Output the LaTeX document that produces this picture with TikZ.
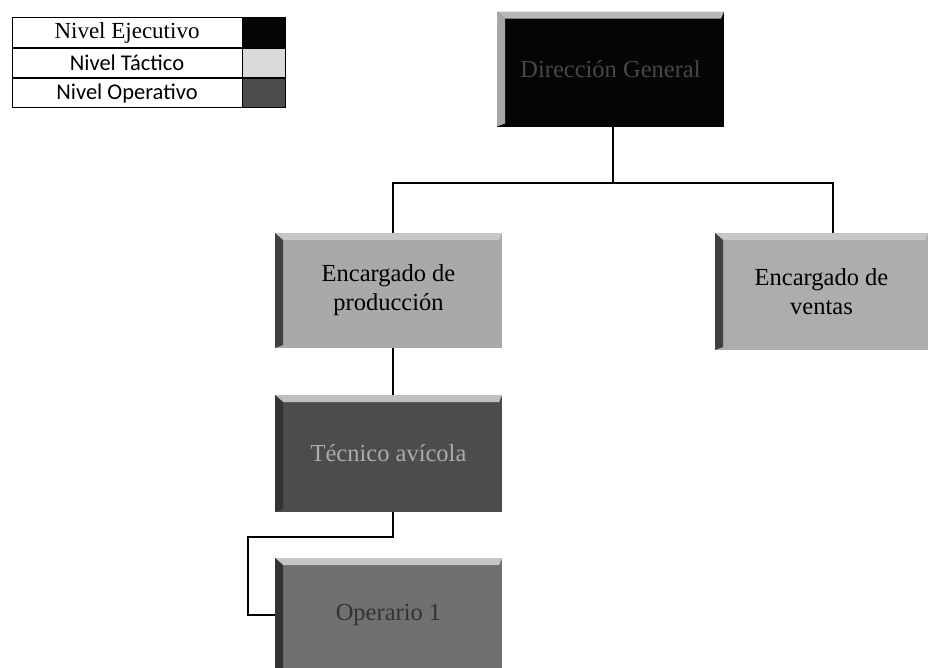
\documentclass[tikz,border=0pt]{standalone}
\usepackage{fontspec}
\setmainfont{Liberation Serif}
\newfontfamily\boxfont{Liberation Serif}
\newfontfamily\legsans{Carlito}
\usetikzlibrary{positioning}
\definecolor{ejecutivo}{HTML}{050505}
\definecolor{tactico}{HTML}{A9A9A9}
\definecolor{operativo}{HTML}{4C4C4C}
\definecolor{operario}{HTML}{707070}
\definecolor{swtactico}{HTML}{DADADA}
\tikzset{
  conn/.style = {line width=1.4pt},
  legcell/.style = {draw, line width=0.8pt, minimum width=230pt, minimum height=29.5pt, inner sep=0pt},
  swatch/.style = {draw, line width=0.8pt, minimum width=43pt, minimum height=29.5pt, inner sep=0pt},
  orgbox/.style n args = {3}{
    fill=#1, minimum width=227pt, minimum height=115pt, inner sep=0pt,
    align=center, font={\boxfont\fontsize{24.5}{29}\selectfont},
    path picture={
      % top face
      \fill[#2] (path picture bounding box.north west) -- (path picture bounding box.north east)
        -- ([xshift=-3pt,yshift=-7pt]path picture bounding box.north east)
        -- ([xshift=8pt,yshift=-7pt]path picture bounding box.north west) -- cycle;
      % left face
      \fill[#3] (path picture bounding box.north west)
        -- ([xshift=8pt,yshift=-7pt]path picture bounding box.north west)
        -- ([xshift=8pt,yshift=3pt]path picture bounding box.south west)
        -- (path picture bounding box.south west) -- cycle;
    }
  }
}

\begin{document}
\begin{tikzpicture}[x=1pt,y=-1pt]
  \path[use as bounding box, fill=white] (0,0) rectangle (931,667);
  % legend
  \node[legcell, font={\fontsize{23}{26}\selectfont}] (legE) at (127,32.5) {Nivel Ejecutivo};
  \node[swatch, fill=ejecutivo, anchor=west] (swE) at (legE.east) {};
  \node[legcell, anchor=north, font={\legsans\fontsize{22.5}{25}\selectfont}] (legT) at (legE.south) {Nivel Táctico};
  \node[swatch, fill=swtactico, anchor=west] (swT) at (legT.east) {};
  \node[legcell, anchor=north, font={\legsans\fontsize{22.5}{25}\selectfont}] (legO) at (legT.south) {Nivel Operativo};
  \node[swatch, fill=operativo, anchor=west] (swO) at (legO.east) {};
  % boxes
  \node[orgbox={ejecutivo}{gray!55}{gray!70}, text=black!72] (dir) at (610.5,69) {Dirección General};
  \node[orgbox={tactico}{gray!45}{black!75}] (prod) at (388.5,290.5) {Encargado de\\producción};
  \node[orgbox={tactico!95!white}{gray!45}{black!75}, minimum width=213pt, minimum height=117pt] (ventas) at (821.5,291.5) {Encargado de\\ventas};
  \node[orgbox={operativo}{gray!50}{black!80}, minimum height=117pt, text=gray!65] (tec) at (388.5,453.5) {Técnico avícola};
  \node[orgbox={operario}{gray!45}{black!80}, minimum height=114pt, text=black!80] (op) at (388.5,615) {Operario 1};
  % connectors
  \coordinate (bar) at (613,183);
  \draw[conn] ([xshift=2.5pt]dir.south) |- (bar) -| ([xshift=4.5pt]prod.north);
  \draw[conn] (bar) -| ([xshift=11.5pt]ventas.north);
  \draw[conn] ([xshift=4.5pt]prod.south) -- ([xshift=4.5pt]tec.north);
  \coordinate (elbow) at (248,537);
  \draw[conn] ([xshift=4.5pt]tec.south) |- (elbow) |- (op.west);
\end{tikzpicture}
\end{document}
